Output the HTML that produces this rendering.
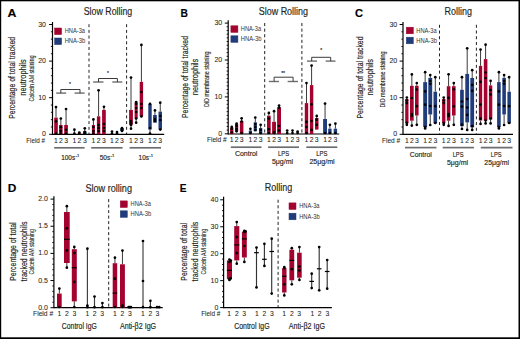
<!DOCTYPE html><html><head><meta charset="utf-8"><style>html,body{margin:0;padding:0;background:#fff;width:520px;height:339px;overflow:hidden;}svg{display:block;font-family:"Liberation Sans", sans-serif;}text{stroke:#231f20;stroke-width:0.16px;}text.nb{stroke:none;}text.tk{stroke-width:0.06px;}text.lt{stroke:none;}text.sm{stroke-width:0.12px;}</style></head><body><svg width="520" height="339" viewBox="0 0 520 339" font-family='"Liberation Sans", sans-serif'>
<rect x="0" y="0" width="520" height="339" fill="#fff"/>
<text x="7.4" y="17.2" font-size="11.8" font-weight="bold" textLength="8.9" lengthAdjust="spacingAndGlyphs" fill="#000">A</text>
<text x="83.7" y="14.8" font-size="10.8" textLength="48.6" lengthAdjust="spacingAndGlyphs" fill="#231f20">Slow Rolling</text>
<line x1="52.5" y1="22" x2="52.5" y2="134.9" stroke="#000" stroke-width="1.2"/>
<line x1="49.1" y1="134.3" x2="52.5" y2="134.3" stroke="#000" stroke-width="1"/>
<text x="46" y="136.33" font-size="7" text-anchor="end" fill="#231f20" class="tk">0</text>
<line x1="49.1" y1="97.7" x2="52.5" y2="97.7" stroke="#000" stroke-width="1"/>
<text x="46" y="99.73" font-size="7" text-anchor="end" fill="#231f20" class="tk">10</text>
<line x1="49.1" y1="61.1" x2="52.5" y2="61.1" stroke="#000" stroke-width="1"/>
<text x="46" y="63.13" font-size="7" text-anchor="end" fill="#231f20" class="tk">20</text>
<line x1="49.1" y1="24.5" x2="52.5" y2="24.5" stroke="#000" stroke-width="1"/>
<text x="46" y="26.53" font-size="7" text-anchor="end" fill="#231f20" class="tk">30</text>
<line x1="50.9" y1="126.98" x2="52.5" y2="126.98" stroke="#000" stroke-width="0.9"/>
<line x1="50.9" y1="119.66" x2="52.5" y2="119.66" stroke="#000" stroke-width="0.9"/>
<line x1="50.9" y1="112.34" x2="52.5" y2="112.34" stroke="#000" stroke-width="0.9"/>
<line x1="50.9" y1="105.02" x2="52.5" y2="105.02" stroke="#000" stroke-width="0.9"/>
<line x1="50.9" y1="90.38" x2="52.5" y2="90.38" stroke="#000" stroke-width="0.9"/>
<line x1="50.9" y1="83.06" x2="52.5" y2="83.06" stroke="#000" stroke-width="0.9"/>
<line x1="50.9" y1="75.74" x2="52.5" y2="75.74" stroke="#000" stroke-width="0.9"/>
<line x1="50.9" y1="68.42" x2="52.5" y2="68.42" stroke="#000" stroke-width="0.9"/>
<line x1="50.9" y1="53.78" x2="52.5" y2="53.78" stroke="#000" stroke-width="0.9"/>
<line x1="50.9" y1="46.46" x2="52.5" y2="46.46" stroke="#000" stroke-width="0.9"/>
<line x1="50.9" y1="39.14" x2="52.5" y2="39.14" stroke="#000" stroke-width="0.9"/>
<line x1="50.9" y1="31.82" x2="52.5" y2="31.82" stroke="#000" stroke-width="0.9"/>
<text transform="translate(14.9 77.85) rotate(-90)" x="0" y="0" font-size="9.4" text-anchor="middle" textLength="82" lengthAdjust="spacingAndGlyphs" fill="#231f20">Percentage of total tracked</text>
<text transform="translate(25.8 77.5) rotate(-90)" x="0" y="0" font-size="9.4" text-anchor="middle" textLength="36.4" lengthAdjust="spacingAndGlyphs" fill="#231f20">neutrophils</text>
<text transform="translate(33.9 78.5) rotate(-90)" x="0" y="0" font-size="6.4" text-anchor="middle" textLength="46.2" lengthAdjust="spacingAndGlyphs" fill="#231f20" class="sm">Calcein AM staining</text>
<rect x="54.6" y="28" width="7" height="6.58" fill="#a5032f" stroke="#9a0530" stroke-width="0.5"/>
<rect x="54.6" y="38" width="7" height="6.58" fill="#213c7b" stroke="#1f3a72" stroke-width="0.5"/>
<text x="64.7" y="33.34" font-size="6.8" textLength="20.3" lengthAdjust="spacingAndGlyphs" fill="#333" class="lt">HNA-3a</text>
<text x="64.7" y="43.34" font-size="6.8" textLength="20.6" lengthAdjust="spacingAndGlyphs" fill="#333" class="lt">HNA-3b</text>
<line x1="89" y1="24.2" x2="89" y2="134" stroke="#222" stroke-width="1" stroke-dasharray="3 2.7"/>
<line x1="126.6" y1="24.2" x2="126.6" y2="134" stroke="#222" stroke-width="1" stroke-dasharray="3 2.7"/>
<line x1="52.5" y1="134.3" x2="164.2" y2="134.3" stroke="#000" stroke-width="1.2"/>
<line x1="56.2" y1="93.1" x2="66.2" y2="93.1" stroke="#6d6e71" stroke-width="1.4"/>
<line x1="74.6" y1="93.1" x2="84.6" y2="93.1" stroke="#6d6e71" stroke-width="1.4"/>
<polyline points="60.8,93.1 60.8,89.5 80,89.5 80,93.1" fill="none" stroke="#3a3a3a" stroke-width="1"/>
<text x="70" y="86" font-size="5" text-anchor="middle" fill="#444">*</text>
<line x1="93.1" y1="82" x2="103.5" y2="82" stroke="#6d6e71" stroke-width="1.4"/>
<line x1="112.3" y1="82" x2="122.3" y2="82" stroke="#6d6e71" stroke-width="1.4"/>
<polyline points="98.5,82 98.5,78.5 117.4,78.5 117.4,82" fill="none" stroke="#3a3a3a" stroke-width="1"/>
<text x="108" y="75.2" font-size="5" text-anchor="middle" fill="#444">*</text>
<line x1="56" y1="107.1" x2="56" y2="117.7" stroke="#3a3a3a" stroke-width="1"/>
<rect x="54.2" y="117.7" width="3.6" height="16.6" fill="#a5032f"/>
<circle cx="56" cy="107.1" r="1.35" fill="#000"/>
<circle cx="56" cy="121.4" r="1.35" fill="#000"/>
<circle cx="56" cy="133.5" r="1.35" fill="#000"/>
<line x1="60.85" y1="118.5" x2="60.85" y2="125" stroke="#3a3a3a" stroke-width="1"/>
<rect x="59.1" y="125" width="3.5" height="9.3" fill="#a5032f"/>
<circle cx="60.85" cy="118.5" r="1.35" fill="#000"/>
<circle cx="60.85" cy="127.2" r="1.35" fill="#000"/>
<circle cx="60.85" cy="130.8" r="1.35" fill="#000"/>
<circle cx="60.85" cy="133.5" r="1.35" fill="#000"/>
<line x1="66.05" y1="109" x2="66.05" y2="125" stroke="#3a3a3a" stroke-width="1"/>
<rect x="64.2" y="125" width="3.7" height="9.3" fill="#a5032f"/>
<circle cx="66.05" cy="109" r="1.35" fill="#000"/>
<circle cx="66.05" cy="129.8" r="1.35" fill="#000"/>
<circle cx="66.05" cy="133.5" r="1.35" fill="#000"/>
<line x1="74.4" y1="129.7" x2="74.4" y2="134.3" stroke="#3a3a3a" stroke-width="1"/>
<circle cx="74.4" cy="129.7" r="1.35" fill="#000"/>
<circle cx="74.4" cy="133.5" r="1.35" fill="#000"/>
<line x1="79.3" y1="132.5" x2="79.3" y2="134.3" stroke="#3a3a3a" stroke-width="1"/>
<circle cx="79.3" cy="132.5" r="1.35" fill="#000"/>
<circle cx="79.3" cy="133.5" r="1.35" fill="#000"/>
<line x1="84.8" y1="128.3" x2="84.8" y2="131.3" stroke="#3a3a3a" stroke-width="1"/>
<rect x="83" y="131.3" width="3.6" height="3" fill="#213c7b"/>
<circle cx="84.8" cy="128.3" r="1.35" fill="#000"/>
<circle cx="84.8" cy="132" r="1.35" fill="#000"/>
<circle cx="84.8" cy="133.5" r="1.35" fill="#000"/>
<line x1="93.4" y1="119.4" x2="93.4" y2="125" stroke="#3a3a3a" stroke-width="1"/>
<rect x="91.9" y="125" width="3" height="9.3" fill="#a5032f"/>
<circle cx="93.4" cy="119.4" r="1.35" fill="#000"/>
<circle cx="93.4" cy="127" r="1.35" fill="#000"/>
<circle cx="93.4" cy="131" r="1.35" fill="#000"/>
<circle cx="93.4" cy="133.5" r="1.35" fill="#000"/>
<line x1="98.6" y1="90.3" x2="98.6" y2="116.3" stroke="#3a3a3a" stroke-width="1"/>
<rect x="96.9" y="116.3" width="3.4" height="18" fill="#a5032f"/>
<circle cx="98.6" cy="90.3" r="1.35" fill="#000"/>
<circle cx="98.6" cy="125" r="1.35" fill="#000"/>
<circle cx="98.6" cy="128" r="1.35" fill="#000"/>
<circle cx="98.6" cy="131" r="1.35" fill="#000"/>
<line x1="103.95" y1="106.8" x2="103.95" y2="109.9" stroke="#3a3a3a" stroke-width="1"/>
<rect x="102.1" y="109.9" width="3.7" height="24.4" fill="#a5032f"/>
<circle cx="103.95" cy="106.8" r="1.35" fill="#000"/>
<circle cx="103.95" cy="124" r="1.35" fill="#000"/>
<circle cx="103.95" cy="128" r="1.35" fill="#000"/>
<circle cx="103.95" cy="131" r="1.35" fill="#000"/>
<line x1="112" y1="131.5" x2="112" y2="134.3" stroke="#3a3a3a" stroke-width="1"/>
<circle cx="112" cy="131.5" r="1.35" fill="#000"/>
<circle cx="112" cy="133.5" r="1.35" fill="#000"/>
<line x1="117" y1="132" x2="117" y2="134.3" stroke="#3a3a3a" stroke-width="1"/>
<circle cx="117" cy="132" r="1.35" fill="#000"/>
<circle cx="117" cy="133.5" r="1.35" fill="#000"/>
<line x1="122" y1="128" x2="122" y2="128" stroke="#3a3a3a" stroke-width="1"/>
<rect x="120.2" y="128" width="3.6" height="3" fill="#213c7b"/>
<circle cx="122" cy="128" r="1.35" fill="#000"/>
<circle cx="122" cy="129.5" r="1.35" fill="#000"/>
<circle cx="122" cy="131" r="1.35" fill="#000"/>
<line x1="131" y1="77.6" x2="131" y2="109.9" stroke="#3a3a3a" stroke-width="1"/>
<line x1="131" y1="124.8" x2="131" y2="128.7" stroke="#3a3a3a" stroke-width="1"/>
<rect x="129.1" y="109.9" width="3.8" height="14.9" fill="#a5032f"/>
<circle cx="131" cy="77.6" r="1.35" fill="#000"/>
<circle cx="131" cy="121" r="1.35" fill="#000"/>
<circle cx="131" cy="123" r="1.35" fill="#000"/>
<circle cx="131" cy="125" r="1.35" fill="#000"/>
<circle cx="131" cy="128.7" r="1.35" fill="#000"/>
<line x1="136.15" y1="102" x2="136.15" y2="102.2" stroke="#3a3a3a" stroke-width="1"/>
<line x1="136.15" y1="118.5" x2="136.15" y2="122.7" stroke="#3a3a3a" stroke-width="1"/>
<rect x="134.6" y="102.2" width="3.1" height="16.3" fill="#a5032f"/>
<circle cx="136.15" cy="102" r="1.35" fill="#000"/>
<circle cx="136.15" cy="104" r="1.35" fill="#000"/>
<circle cx="136.15" cy="108" r="1.35" fill="#000"/>
<circle cx="136.15" cy="112" r="1.35" fill="#000"/>
<circle cx="136.15" cy="118.5" r="1.35" fill="#000"/>
<circle cx="136.15" cy="122.7" r="1.35" fill="#000"/>
<line x1="141.4" y1="44.9" x2="141.4" y2="81.9" stroke="#3a3a3a" stroke-width="1"/>
<rect x="139.7" y="81.9" width="3.4" height="34.5" fill="#a5032f"/>
<circle cx="141.4" cy="44.9" r="1.35" fill="#000"/>
<circle cx="141.4" cy="92" r="1.35" fill="#000"/>
<circle cx="141.4" cy="104" r="1.35" fill="#000"/>
<circle cx="141.4" cy="108" r="1.35" fill="#000"/>
<circle cx="141.4" cy="116.4" r="1.35" fill="#000"/>
<line x1="150" y1="129.6" x2="150" y2="133.5" stroke="#3a3a3a" stroke-width="1"/>
<rect x="148.3" y="103.9" width="3.4" height="25.7" fill="#213c7b"/>
<circle cx="150" cy="103.9" r="1.35" fill="#000"/>
<circle cx="150" cy="128" r="1.35" fill="#000"/>
<circle cx="150" cy="133.5" r="1.35" fill="#000"/>
<line x1="154.95" y1="110.4" x2="154.95" y2="115" stroke="#3a3a3a" stroke-width="1"/>
<rect x="153.1" y="115" width="3.7" height="7.7" fill="#213c7b"/>
<circle cx="154.95" cy="110.4" r="1.35" fill="#000"/>
<circle cx="154.95" cy="119" r="1.35" fill="#000"/>
<circle cx="154.95" cy="121" r="1.35" fill="#000"/>
<line x1="160.25" y1="102.7" x2="160.25" y2="111.6" stroke="#3a3a3a" stroke-width="1"/>
<rect x="158.5" y="111.6" width="3.5" height="18" fill="#213c7b"/>
<circle cx="160.25" cy="102.7" r="1.35" fill="#000"/>
<circle cx="160.25" cy="116" r="1.35" fill="#000"/>
<circle cx="160.25" cy="120" r="1.35" fill="#000"/>
<circle cx="160.25" cy="129.6" r="1.35" fill="#000"/>
<text x="26.2" y="142.8" font-size="6.6" textLength="18.9" lengthAdjust="spacingAndGlyphs" fill="#231f20" class="tk">Field #</text>
<text x="56" y="142.8" font-size="6.8" text-anchor="middle" fill="#231f20" class="tk">1</text>
<text x="60.85" y="142.8" font-size="6.8" text-anchor="middle" fill="#231f20" class="tk">2</text>
<text x="66.05" y="142.8" font-size="6.8" text-anchor="middle" fill="#231f20" class="tk">3</text>
<text x="74.4" y="142.8" font-size="6.8" text-anchor="middle" fill="#231f20" class="tk">1</text>
<text x="79.3" y="142.8" font-size="6.8" text-anchor="middle" fill="#231f20" class="tk">2</text>
<text x="84.8" y="142.8" font-size="6.8" text-anchor="middle" fill="#231f20" class="tk">3</text>
<text x="93.4" y="142.8" font-size="6.8" text-anchor="middle" fill="#231f20" class="tk">1</text>
<text x="98.6" y="142.8" font-size="6.8" text-anchor="middle" fill="#231f20" class="tk">2</text>
<text x="103.95" y="142.8" font-size="6.8" text-anchor="middle" fill="#231f20" class="tk">3</text>
<text x="112" y="142.8" font-size="6.8" text-anchor="middle" fill="#231f20" class="tk">1</text>
<text x="117" y="142.8" font-size="6.8" text-anchor="middle" fill="#231f20" class="tk">2</text>
<text x="122" y="142.8" font-size="6.8" text-anchor="middle" fill="#231f20" class="tk">3</text>
<text x="131" y="142.8" font-size="6.8" text-anchor="middle" fill="#231f20" class="tk">1</text>
<text x="136.15" y="142.8" font-size="6.8" text-anchor="middle" fill="#231f20" class="tk">2</text>
<text x="141.4" y="142.8" font-size="6.8" text-anchor="middle" fill="#231f20" class="tk">3</text>
<text x="150" y="142.8" font-size="6.8" text-anchor="middle" fill="#231f20" class="tk">1</text>
<text x="154.95" y="142.8" font-size="6.8" text-anchor="middle" fill="#231f20" class="tk">2</text>
<text x="160.25" y="142.8" font-size="6.8" text-anchor="middle" fill="#231f20" class="tk">3</text>
<line x1="54.2" y1="147.8" x2="84.6" y2="147.8" stroke="#6d6e71" stroke-width="1.7"/>
<line x1="91.2" y1="147.8" x2="122.6" y2="147.8" stroke="#6d6e71" stroke-width="1.7"/>
<line x1="129.6" y1="147.8" x2="161" y2="147.8" stroke="#6d6e71" stroke-width="1.7"/>
<text x="61.2" y="160.2" font-size="7.4" textLength="14" lengthAdjust="spacingAndGlyphs" fill="#231f20">100s</text>
<text x="75.5" y="157" font-size="4.2" fill="#231f20">-1</text>
<text x="99.7" y="160.2" font-size="7.4" textLength="10.6" lengthAdjust="spacingAndGlyphs" fill="#231f20">50s</text>
<text x="110.6" y="157" font-size="4.2" fill="#231f20">-1</text>
<text x="138.6" y="160.2" font-size="7.4" textLength="10.4" lengthAdjust="spacingAndGlyphs" fill="#231f20">10s</text>
<text x="149.3" y="157" font-size="4.2" fill="#231f20">-1</text>
<text x="180.5" y="17.3" font-size="11.8" font-weight="bold" textLength="7.4" lengthAdjust="spacingAndGlyphs" fill="#000">B</text>
<text x="258.7" y="14.6" font-size="10.8" textLength="49.4" lengthAdjust="spacingAndGlyphs" fill="#231f20">Slow Rolling</text>
<line x1="228.2" y1="20.2" x2="228.2" y2="134.4" stroke="#000" stroke-width="1.2"/>
<line x1="224.8" y1="133.8" x2="228.2" y2="133.8" stroke="#000" stroke-width="1"/>
<text x="222.2" y="135.83" font-size="7" text-anchor="end" fill="#231f20" class="tk">0</text>
<line x1="224.8" y1="96.9" x2="228.2" y2="96.9" stroke="#000" stroke-width="1"/>
<text x="222.2" y="98.93" font-size="7" text-anchor="end" fill="#231f20" class="tk">10</text>
<line x1="224.8" y1="60" x2="228.2" y2="60" stroke="#000" stroke-width="1"/>
<text x="222.2" y="62.03" font-size="7" text-anchor="end" fill="#231f20" class="tk">20</text>
<line x1="224.8" y1="23.1" x2="228.2" y2="23.1" stroke="#000" stroke-width="1"/>
<text x="222.2" y="25.13" font-size="7" text-anchor="end" fill="#231f20" class="tk">30</text>
<line x1="226.6" y1="130.11" x2="228.2" y2="130.11" stroke="#000" stroke-width="0.9"/>
<line x1="226.6" y1="126.42" x2="228.2" y2="126.42" stroke="#000" stroke-width="0.9"/>
<line x1="226.6" y1="122.73" x2="228.2" y2="122.73" stroke="#000" stroke-width="0.9"/>
<line x1="226.6" y1="119.04" x2="228.2" y2="119.04" stroke="#000" stroke-width="0.9"/>
<line x1="226.6" y1="115.35" x2="228.2" y2="115.35" stroke="#000" stroke-width="0.9"/>
<line x1="226.6" y1="111.66" x2="228.2" y2="111.66" stroke="#000" stroke-width="0.9"/>
<line x1="226.6" y1="107.97" x2="228.2" y2="107.97" stroke="#000" stroke-width="0.9"/>
<line x1="226.6" y1="104.28" x2="228.2" y2="104.28" stroke="#000" stroke-width="0.9"/>
<line x1="226.6" y1="100.59" x2="228.2" y2="100.59" stroke="#000" stroke-width="0.9"/>
<line x1="226.6" y1="93.21" x2="228.2" y2="93.21" stroke="#000" stroke-width="0.9"/>
<line x1="226.6" y1="89.52" x2="228.2" y2="89.52" stroke="#000" stroke-width="0.9"/>
<line x1="226.6" y1="85.83" x2="228.2" y2="85.83" stroke="#000" stroke-width="0.9"/>
<line x1="226.6" y1="82.14" x2="228.2" y2="82.14" stroke="#000" stroke-width="0.9"/>
<line x1="226.6" y1="78.45" x2="228.2" y2="78.45" stroke="#000" stroke-width="0.9"/>
<line x1="226.6" y1="74.76" x2="228.2" y2="74.76" stroke="#000" stroke-width="0.9"/>
<line x1="226.6" y1="71.07" x2="228.2" y2="71.07" stroke="#000" stroke-width="0.9"/>
<line x1="226.6" y1="67.38" x2="228.2" y2="67.38" stroke="#000" stroke-width="0.9"/>
<line x1="226.6" y1="63.69" x2="228.2" y2="63.69" stroke="#000" stroke-width="0.9"/>
<line x1="226.6" y1="56.31" x2="228.2" y2="56.31" stroke="#000" stroke-width="0.9"/>
<line x1="226.6" y1="52.62" x2="228.2" y2="52.62" stroke="#000" stroke-width="0.9"/>
<line x1="226.6" y1="48.93" x2="228.2" y2="48.93" stroke="#000" stroke-width="0.9"/>
<line x1="226.6" y1="45.24" x2="228.2" y2="45.24" stroke="#000" stroke-width="0.9"/>
<line x1="226.6" y1="41.55" x2="228.2" y2="41.55" stroke="#000" stroke-width="0.9"/>
<line x1="226.6" y1="37.86" x2="228.2" y2="37.86" stroke="#000" stroke-width="0.9"/>
<line x1="226.6" y1="34.17" x2="228.2" y2="34.17" stroke="#000" stroke-width="0.9"/>
<line x1="226.6" y1="30.48" x2="228.2" y2="30.48" stroke="#000" stroke-width="0.9"/>
<line x1="226.6" y1="26.79" x2="228.2" y2="26.79" stroke="#000" stroke-width="0.9"/>
<text transform="translate(187.8 77) rotate(-90)" x="0" y="0" font-size="9.4" text-anchor="middle" textLength="82" lengthAdjust="spacingAndGlyphs" fill="#231f20">Percentage of total tracked</text>
<text transform="translate(198 77) rotate(-90)" x="0" y="0" font-size="9.4" text-anchor="middle" textLength="36.4" lengthAdjust="spacingAndGlyphs" fill="#231f20">neutrophils</text>
<text transform="translate(209 79.2) rotate(-90)" x="0" y="0" font-size="6.4" text-anchor="middle" textLength="55.5" lengthAdjust="spacingAndGlyphs" fill="#231f20" class="sm">DiD membrane staining</text>
<rect x="230.9" y="25.8" width="7" height="6.58" fill="#a5032f" stroke="#9a0530" stroke-width="0.5"/>
<rect x="230.9" y="35.8" width="7" height="6.58" fill="#213c7b" stroke="#1f3a72" stroke-width="0.5"/>
<text x="240.8" y="31.14" font-size="6.8" textLength="20.3" lengthAdjust="spacingAndGlyphs" fill="#333" class="lt">HNA-3a</text>
<text x="240.8" y="41.14" font-size="6.8" textLength="20.6" lengthAdjust="spacingAndGlyphs" fill="#333" class="lt">HNA-3b</text>
<line x1="264.7" y1="23" x2="264.7" y2="134" stroke="#222" stroke-width="1" stroke-dasharray="3.1 2.5"/>
<line x1="301.9" y1="23" x2="301.9" y2="134" stroke="#222" stroke-width="1" stroke-dasharray="3.1 2.5"/>
<line x1="228.2" y1="134" x2="339.3" y2="134" stroke="#000" stroke-width="1.2"/>
<line x1="268.9" y1="81.5" x2="279" y2="81.5" stroke="#6d6e71" stroke-width="1.4"/>
<line x1="287.6" y1="81.5" x2="298" y2="81.5" stroke="#6d6e71" stroke-width="1.4"/>
<polyline points="274.1,81.5 274.1,77.2 293.1,77.2 293.1,81.5" fill="none" stroke="#3a3a3a" stroke-width="1"/>
<text x="283.1" y="74.7" font-size="5" text-anchor="middle" fill="#444">**</text>
<line x1="307" y1="61.1" x2="317" y2="61.1" stroke="#6d6e71" stroke-width="1.4"/>
<line x1="325.7" y1="61.1" x2="335.5" y2="61.1" stroke="#6d6e71" stroke-width="1.4"/>
<polyline points="311.7,61.1 311.7,57.3 330.7,57.3 330.7,61.1" fill="none" stroke="#3a3a3a" stroke-width="1"/>
<text x="321.2" y="51.7" font-size="5" text-anchor="middle" fill="#444">*</text>
<line x1="231.75" y1="126.9" x2="231.75" y2="127.5" stroke="#3a3a3a" stroke-width="1"/>
<rect x="230.1" y="127.5" width="3.3" height="6.5" fill="#a5032f"/>
<circle cx="231.75" cy="126.9" r="1.35" fill="#000"/>
<circle cx="231.75" cy="129" r="1.35" fill="#000"/>
<circle cx="231.75" cy="132.5" r="1.35" fill="#000"/>
<line x1="236.6" y1="123.6" x2="236.6" y2="124" stroke="#3a3a3a" stroke-width="1"/>
<rect x="235" y="124" width="3.2" height="7.3" fill="#a5032f"/>
<circle cx="236.6" cy="123.6" r="1.35" fill="#000"/>
<circle cx="236.6" cy="126" r="1.35" fill="#000"/>
<circle cx="236.6" cy="129" r="1.35" fill="#000"/>
<circle cx="236.6" cy="131.3" r="1.35" fill="#000"/>
<line x1="241.65" y1="118.3" x2="241.65" y2="121" stroke="#3a3a3a" stroke-width="1"/>
<rect x="239.9" y="121" width="3.5" height="13" fill="#a5032f"/>
<circle cx="241.65" cy="118.3" r="1.35" fill="#000"/>
<circle cx="241.65" cy="121.5" r="1.35" fill="#000"/>
<circle cx="241.65" cy="133" r="1.35" fill="#000"/>
<line x1="250.4" y1="128.8" x2="250.4" y2="130.5" stroke="#3a3a3a" stroke-width="1"/>
<rect x="248.8" y="130.5" width="3.2" height="3.5" fill="#213c7b"/>
<circle cx="250.4" cy="128.8" r="1.35" fill="#000"/>
<circle cx="250.4" cy="133" r="1.35" fill="#000"/>
<line x1="255.3" y1="117.5" x2="255.3" y2="122.3" stroke="#3a3a3a" stroke-width="1"/>
<rect x="253.7" y="122.3" width="3.2" height="9" fill="#213c7b"/>
<circle cx="255.3" cy="117.5" r="1.35" fill="#000"/>
<circle cx="255.3" cy="124" r="1.35" fill="#000"/>
<circle cx="255.3" cy="127" r="1.35" fill="#000"/>
<circle cx="255.3" cy="130" r="1.35" fill="#000"/>
<line x1="260.65" y1="124.8" x2="260.65" y2="128" stroke="#3a3a3a" stroke-width="1"/>
<rect x="259" y="128" width="3.3" height="6" fill="#213c7b"/>
<circle cx="260.65" cy="124.8" r="1.35" fill="#000"/>
<circle cx="260.65" cy="130" r="1.35" fill="#000"/>
<circle cx="260.65" cy="133" r="1.35" fill="#000"/>
<line x1="268.85" y1="112.9" x2="268.85" y2="115.7" stroke="#3a3a3a" stroke-width="1"/>
<rect x="267" y="115.7" width="3.7" height="18.3" fill="#a5032f"/>
<circle cx="268.85" cy="112.9" r="1.35" fill="#000"/>
<circle cx="268.85" cy="118.5" r="1.35" fill="#000"/>
<circle cx="268.85" cy="129.3" r="1.35" fill="#000"/>
<circle cx="268.85" cy="133" r="1.35" fill="#000"/>
<line x1="274.05" y1="111.2" x2="274.05" y2="121.8" stroke="#3a3a3a" stroke-width="1"/>
<rect x="272.1" y="121.8" width="3.9" height="12.2" fill="#a5032f"/>
<circle cx="274.05" cy="111.2" r="1.35" fill="#000"/>
<circle cx="274.05" cy="132" r="1.35" fill="#000"/>
<circle cx="274.05" cy="133" r="1.35" fill="#000"/>
<line x1="279.05" y1="105.6" x2="279.05" y2="107.3" stroke="#3a3a3a" stroke-width="1"/>
<rect x="277.1" y="107.3" width="3.9" height="26.7" fill="#a5032f"/>
<circle cx="279.05" cy="105.6" r="1.35" fill="#000"/>
<circle cx="279.05" cy="107.8" r="1.35" fill="#000"/>
<circle cx="279.05" cy="126" r="1.35" fill="#000"/>
<circle cx="279.05" cy="130.5" r="1.35" fill="#000"/>
<line x1="287.2" y1="130.5" x2="287.2" y2="134" stroke="#3a3a3a" stroke-width="1"/>
<circle cx="287.2" cy="130.5" r="1.35" fill="#000"/>
<circle cx="287.2" cy="133" r="1.35" fill="#000"/>
<line x1="292.5" y1="130.5" x2="292.5" y2="134" stroke="#3a3a3a" stroke-width="1"/>
<circle cx="292.5" cy="130.5" r="1.35" fill="#000"/>
<circle cx="292.5" cy="133" r="1.35" fill="#000"/>
<line x1="297.6" y1="131.5" x2="297.6" y2="134" stroke="#3a3a3a" stroke-width="1"/>
<circle cx="297.6" cy="131.5" r="1.35" fill="#000"/>
<circle cx="297.6" cy="133" r="1.35" fill="#000"/>
<line x1="306.5" y1="83.1" x2="306.5" y2="103.1" stroke="#3a3a3a" stroke-width="1"/>
<rect x="304.8" y="103.1" width="3.4" height="30.9" fill="#a5032f"/>
<circle cx="306.5" cy="83.1" r="1.35" fill="#000"/>
<circle cx="306.5" cy="121.9" r="1.35" fill="#000"/>
<circle cx="306.5" cy="127" r="1.35" fill="#000"/>
<circle cx="306.5" cy="133" r="1.35" fill="#000"/>
<line x1="311.6" y1="65.6" x2="311.6" y2="85.1" stroke="#3a3a3a" stroke-width="1"/>
<rect x="309.9" y="85.1" width="3.4" height="48.9" fill="#a5032f"/>
<circle cx="311.6" cy="65.6" r="1.35" fill="#000"/>
<circle cx="311.6" cy="104.3" r="1.35" fill="#000"/>
<circle cx="311.6" cy="121" r="1.35" fill="#000"/>
<circle cx="311.6" cy="129.9" r="1.35" fill="#000"/>
<line x1="316.75" y1="115.9" x2="316.75" y2="118" stroke="#3a3a3a" stroke-width="1"/>
<rect x="315" y="118" width="3.5" height="11.6" fill="#a5032f"/>
<circle cx="316.75" cy="115.9" r="1.35" fill="#000"/>
<circle cx="316.75" cy="119.7" r="1.35" fill="#000"/>
<circle cx="316.75" cy="124.8" r="1.35" fill="#000"/>
<line x1="325.05" y1="103.6" x2="325.05" y2="119" stroke="#3a3a3a" stroke-width="1"/>
<rect x="323.1" y="119" width="3.9" height="15" fill="#213c7b"/>
<circle cx="325.05" cy="103.6" r="1.35" fill="#000"/>
<circle cx="325.05" cy="133" r="1.35" fill="#000"/>
<line x1="329.9" y1="124.8" x2="329.9" y2="128.7" stroke="#3a3a3a" stroke-width="1"/>
<rect x="328.2" y="128.7" width="3.4" height="5.3" fill="#213c7b"/>
<circle cx="329.9" cy="124.8" r="1.35" fill="#000"/>
<circle cx="329.9" cy="133" r="1.35" fill="#000"/>
<line x1="335.4" y1="123.6" x2="335.4" y2="128.7" stroke="#3a3a3a" stroke-width="1"/>
<rect x="333.7" y="128.7" width="3.4" height="5.3" fill="#213c7b"/>
<circle cx="335.4" cy="123.6" r="1.35" fill="#000"/>
<circle cx="335.4" cy="133" r="1.35" fill="#000"/>
<text x="206.9" y="142.4" font-size="6.6" textLength="19.8" lengthAdjust="spacingAndGlyphs" fill="#231f20" class="tk">Field #</text>
<text x="231.75" y="142.4" font-size="6.8" text-anchor="middle" fill="#231f20" class="tk">1</text>
<text x="236.6" y="142.4" font-size="6.8" text-anchor="middle" fill="#231f20" class="tk">2</text>
<text x="241.65" y="142.4" font-size="6.8" text-anchor="middle" fill="#231f20" class="tk">3</text>
<text x="250.4" y="142.4" font-size="6.8" text-anchor="middle" fill="#231f20" class="tk">1</text>
<text x="255.3" y="142.4" font-size="6.8" text-anchor="middle" fill="#231f20" class="tk">2</text>
<text x="260.65" y="142.4" font-size="6.8" text-anchor="middle" fill="#231f20" class="tk">3</text>
<text x="268.85" y="142.4" font-size="6.8" text-anchor="middle" fill="#231f20" class="tk">1</text>
<text x="274.05" y="142.4" font-size="6.8" text-anchor="middle" fill="#231f20" class="tk">2</text>
<text x="279.05" y="142.4" font-size="6.8" text-anchor="middle" fill="#231f20" class="tk">3</text>
<text x="287.2" y="142.4" font-size="6.8" text-anchor="middle" fill="#231f20" class="tk">1</text>
<text x="292.5" y="142.4" font-size="6.8" text-anchor="middle" fill="#231f20" class="tk">2</text>
<text x="297.6" y="142.4" font-size="6.8" text-anchor="middle" fill="#231f20" class="tk">3</text>
<text x="306.5" y="142.4" font-size="6.8" text-anchor="middle" fill="#231f20" class="tk">1</text>
<text x="311.6" y="142.4" font-size="6.8" text-anchor="middle" fill="#231f20" class="tk">2</text>
<text x="316.75" y="142.4" font-size="6.8" text-anchor="middle" fill="#231f20" class="tk">3</text>
<text x="325.05" y="142.4" font-size="6.8" text-anchor="middle" fill="#231f20" class="tk">1</text>
<text x="329.9" y="142.4" font-size="6.8" text-anchor="middle" fill="#231f20" class="tk">2</text>
<text x="335.4" y="142.4" font-size="6.8" text-anchor="middle" fill="#231f20" class="tk">3</text>
<line x1="230.8" y1="147.2" x2="261.5" y2="147.2" stroke="#6d6e71" stroke-width="1.7"/>
<line x1="268.1" y1="147.2" x2="299" y2="147.2" stroke="#6d6e71" stroke-width="1.7"/>
<line x1="306.3" y1="147.2" x2="337.3" y2="147.2" stroke="#6d6e71" stroke-width="1.7"/>
<text x="234.9" y="156.2" font-size="7.8" textLength="22.5" lengthAdjust="spacingAndGlyphs" fill="#231f20">Control</text>
<text x="278" y="156" font-size="7.8" textLength="11.1" lengthAdjust="spacingAndGlyphs" fill="#231f20">LPS</text>
<text x="271.9" y="164" font-size="7.8" textLength="21.2" lengthAdjust="spacingAndGlyphs" fill="#231f20">5μg/ml</text>
<text x="316.2" y="156" font-size="7.8" textLength="11.2" lengthAdjust="spacingAndGlyphs" fill="#231f20">LPS</text>
<text x="309.4" y="164" font-size="7.8" textLength="25.2" lengthAdjust="spacingAndGlyphs" fill="#231f20">25μg/ml</text>
<text x="355" y="17.4" font-size="11.8" font-weight="bold" textLength="8" lengthAdjust="spacingAndGlyphs" fill="#000">C</text>
<text x="444.6" y="15" font-size="10.8" textLength="27.4" lengthAdjust="spacingAndGlyphs" fill="#231f20">Rolling</text>
<line x1="403" y1="22" x2="403" y2="134.9" stroke="#000" stroke-width="1.2"/>
<line x1="399.6" y1="134.3" x2="403" y2="134.3" stroke="#000" stroke-width="1"/>
<text x="397.2" y="136.33" font-size="7" text-anchor="end" fill="#231f20" class="tk">0</text>
<line x1="399.6" y1="97.7" x2="403" y2="97.7" stroke="#000" stroke-width="1"/>
<text x="397.2" y="99.73" font-size="7" text-anchor="end" fill="#231f20" class="tk">10</text>
<line x1="399.6" y1="61.1" x2="403" y2="61.1" stroke="#000" stroke-width="1"/>
<text x="397.2" y="63.13" font-size="7" text-anchor="end" fill="#231f20" class="tk">20</text>
<line x1="399.6" y1="24.5" x2="403" y2="24.5" stroke="#000" stroke-width="1"/>
<text x="397.2" y="26.53" font-size="7" text-anchor="end" fill="#231f20" class="tk">30</text>
<line x1="401.4" y1="126.98" x2="403" y2="126.98" stroke="#000" stroke-width="0.9"/>
<line x1="401.4" y1="119.66" x2="403" y2="119.66" stroke="#000" stroke-width="0.9"/>
<line x1="401.4" y1="112.34" x2="403" y2="112.34" stroke="#000" stroke-width="0.9"/>
<line x1="401.4" y1="105.02" x2="403" y2="105.02" stroke="#000" stroke-width="0.9"/>
<line x1="401.4" y1="90.38" x2="403" y2="90.38" stroke="#000" stroke-width="0.9"/>
<line x1="401.4" y1="83.06" x2="403" y2="83.06" stroke="#000" stroke-width="0.9"/>
<line x1="401.4" y1="75.74" x2="403" y2="75.74" stroke="#000" stroke-width="0.9"/>
<line x1="401.4" y1="68.42" x2="403" y2="68.42" stroke="#000" stroke-width="0.9"/>
<line x1="401.4" y1="53.78" x2="403" y2="53.78" stroke="#000" stroke-width="0.9"/>
<line x1="401.4" y1="46.46" x2="403" y2="46.46" stroke="#000" stroke-width="0.9"/>
<line x1="401.4" y1="39.14" x2="403" y2="39.14" stroke="#000" stroke-width="0.9"/>
<line x1="401.4" y1="31.82" x2="403" y2="31.82" stroke="#000" stroke-width="0.9"/>
<text transform="translate(363.2 77.5) rotate(-90)" x="0" y="0" font-size="9.4" text-anchor="middle" textLength="82" lengthAdjust="spacingAndGlyphs" fill="#231f20">Percentage of total tracked</text>
<text transform="translate(373.4 77.2) rotate(-90)" x="0" y="0" font-size="9.4" text-anchor="middle" textLength="36.4" lengthAdjust="spacingAndGlyphs" fill="#231f20">neutrophils</text>
<text transform="translate(384.8 79.5) rotate(-90)" x="0" y="0" font-size="6.4" text-anchor="middle" textLength="55.8" lengthAdjust="spacingAndGlyphs" fill="#231f20" class="sm">DiD membrane staining</text>
<rect x="406.3" y="27.2" width="7" height="6.58" fill="#a5032f" stroke="#9a0530" stroke-width="0.5"/>
<rect x="406.3" y="37.2" width="7" height="6.58" fill="#213c7b" stroke="#1f3a72" stroke-width="0.5"/>
<text x="416.3" y="32.54" font-size="6.8" textLength="20.3" lengthAdjust="spacingAndGlyphs" fill="#333" class="lt">HNA-3a</text>
<text x="416.3" y="42.54" font-size="6.8" textLength="20.6" lengthAdjust="spacingAndGlyphs" fill="#333" class="lt">HNA-3b</text>
<line x1="439.5" y1="24.8" x2="439.5" y2="134" stroke="#222" stroke-width="1" stroke-dasharray="3 2.72"/>
<line x1="476.4" y1="24.8" x2="476.4" y2="134" stroke="#222" stroke-width="1" stroke-dasharray="3 2.72"/>
<line x1="403" y1="134.4" x2="513" y2="134.4" stroke="#000" stroke-width="1.2"/>
<line x1="406.85" y1="97.5" x2="406.85" y2="99" stroke="#3a3a3a" stroke-width="1"/>
<line x1="406.85" y1="123.3" x2="406.85" y2="124.8" stroke="#3a3a3a" stroke-width="1"/>
<rect x="405.2" y="99" width="3.3" height="24.3" fill="#a5032f"/>
<circle cx="406.85" cy="97.5" r="1.35" fill="#000"/>
<circle cx="406.85" cy="100.5" r="1.35" fill="#000"/>
<circle cx="406.85" cy="103.1" r="1.35" fill="#000"/>
<circle cx="406.85" cy="122.8" r="1.35" fill="#000"/>
<circle cx="406.85" cy="124.8" r="1.35" fill="#000"/>
<line x1="411.85" y1="74.4" x2="411.85" y2="85.8" stroke="#3a3a3a" stroke-width="1"/>
<line x1="411.85" y1="120.7" x2="411.85" y2="125.6" stroke="#3a3a3a" stroke-width="1"/>
<rect x="410" y="85.8" width="3.7" height="34.9" fill="#a5032f"/>
<circle cx="411.85" cy="74.4" r="1.35" fill="#000"/>
<circle cx="411.85" cy="98" r="1.35" fill="#000"/>
<circle cx="411.85" cy="114" r="1.35" fill="#000"/>
<circle cx="411.85" cy="116" r="1.35" fill="#000"/>
<circle cx="411.85" cy="125.6" r="1.35" fill="#000"/>
<line x1="416.8" y1="83" x2="416.8" y2="85.8" stroke="#3a3a3a" stroke-width="1"/>
<line x1="416.8" y1="115.5" x2="416.8" y2="124.8" stroke="#3a3a3a" stroke-width="1"/>
<rect x="415" y="85.8" width="3.6" height="29.7" fill="#a5032f"/>
<circle cx="416.8" cy="83" r="1.35" fill="#000"/>
<circle cx="416.8" cy="89.5" r="1.35" fill="#000"/>
<circle cx="416.8" cy="106.2" r="1.35" fill="#000"/>
<circle cx="416.8" cy="124.8" r="1.35" fill="#000"/>
<line x1="425.15" y1="72.2" x2="425.15" y2="82.1" stroke="#3a3a3a" stroke-width="1"/>
<line x1="425.15" y1="127.1" x2="425.15" y2="128.4" stroke="#3a3a3a" stroke-width="1"/>
<rect x="423.2" y="82.1" width="3.9" height="45" fill="#213c7b"/>
<circle cx="425.15" cy="72.2" r="1.35" fill="#000"/>
<circle cx="425.15" cy="91.4" r="1.35" fill="#000"/>
<circle cx="425.15" cy="104.7" r="1.35" fill="#000"/>
<circle cx="425.15" cy="127.1" r="1.35" fill="#000"/>
<circle cx="425.15" cy="128.4" r="1.35" fill="#000"/>
<line x1="430.25" y1="75.1" x2="430.25" y2="77.9" stroke="#3a3a3a" stroke-width="1"/>
<line x1="430.25" y1="114.5" x2="430.25" y2="125" stroke="#3a3a3a" stroke-width="1"/>
<rect x="428.3" y="77.9" width="3.9" height="36.6" fill="#213c7b"/>
<circle cx="430.25" cy="75.1" r="1.35" fill="#000"/>
<circle cx="430.25" cy="81" r="1.35" fill="#000"/>
<circle cx="430.25" cy="83.8" r="1.35" fill="#000"/>
<circle cx="430.25" cy="106" r="1.35" fill="#000"/>
<circle cx="430.25" cy="125" r="1.35" fill="#000"/>
<line x1="435.3" y1="77.2" x2="435.3" y2="91.7" stroke="#3a3a3a" stroke-width="1"/>
<rect x="433.5" y="91.7" width="3.6" height="31.6" fill="#213c7b"/>
<circle cx="435.3" cy="77.2" r="1.35" fill="#000"/>
<circle cx="435.3" cy="106.2" r="1.35" fill="#000"/>
<circle cx="435.3" cy="123" r="1.35" fill="#000"/>
<line x1="443.75" y1="97.6" x2="443.75" y2="99" stroke="#3a3a3a" stroke-width="1"/>
<line x1="443.75" y1="123.3" x2="443.75" y2="124.8" stroke="#3a3a3a" stroke-width="1"/>
<rect x="442.1" y="99" width="3.3" height="24.3" fill="#a5032f"/>
<circle cx="443.75" cy="97.6" r="1.35" fill="#000"/>
<circle cx="443.75" cy="100.5" r="1.35" fill="#000"/>
<circle cx="443.75" cy="103.1" r="1.35" fill="#000"/>
<circle cx="443.75" cy="123" r="1.35" fill="#000"/>
<circle cx="443.75" cy="124.8" r="1.35" fill="#000"/>
<line x1="448.6" y1="74.3" x2="448.6" y2="86.2" stroke="#3a3a3a" stroke-width="1"/>
<line x1="448.6" y1="120.7" x2="448.6" y2="125.9" stroke="#3a3a3a" stroke-width="1"/>
<rect x="446.8" y="86.2" width="3.6" height="34.5" fill="#a5032f"/>
<circle cx="448.6" cy="74.3" r="1.35" fill="#000"/>
<circle cx="448.6" cy="97.9" r="1.35" fill="#000"/>
<circle cx="448.6" cy="114" r="1.35" fill="#000"/>
<circle cx="448.6" cy="116" r="1.35" fill="#000"/>
<circle cx="448.6" cy="125.9" r="1.35" fill="#000"/>
<line x1="453.8" y1="83.1" x2="453.8" y2="86.2" stroke="#3a3a3a" stroke-width="1"/>
<line x1="453.8" y1="115.5" x2="453.8" y2="124.8" stroke="#3a3a3a" stroke-width="1"/>
<rect x="452" y="86.2" width="3.6" height="29.3" fill="#a5032f"/>
<circle cx="453.8" cy="83.1" r="1.35" fill="#000"/>
<circle cx="453.8" cy="89.3" r="1.35" fill="#000"/>
<circle cx="453.8" cy="106.4" r="1.35" fill="#000"/>
<circle cx="453.8" cy="124.8" r="1.35" fill="#000"/>
<line x1="461.95" y1="77.2" x2="461.95" y2="89.8" stroke="#3a3a3a" stroke-width="1"/>
<line x1="461.95" y1="126.2" x2="461.95" y2="129" stroke="#3a3a3a" stroke-width="1"/>
<rect x="460.1" y="89.8" width="3.7" height="36.4" fill="#213c7b"/>
<circle cx="461.95" cy="77.2" r="1.35" fill="#000"/>
<circle cx="461.95" cy="101.5" r="1.35" fill="#000"/>
<circle cx="461.95" cy="106.6" r="1.35" fill="#000"/>
<circle cx="461.95" cy="124.7" r="1.35" fill="#000"/>
<circle cx="461.95" cy="129" r="1.35" fill="#000"/>
<line x1="467.2" y1="48.3" x2="467.2" y2="73.9" stroke="#3a3a3a" stroke-width="1"/>
<line x1="467.2" y1="122.4" x2="467.2" y2="129.9" stroke="#3a3a3a" stroke-width="1"/>
<rect x="465.3" y="73.9" width="3.8" height="48.5" fill="#213c7b"/>
<circle cx="467.2" cy="48.3" r="1.35" fill="#000"/>
<circle cx="467.2" cy="99.1" r="1.35" fill="#000"/>
<circle cx="467.2" cy="107.6" r="1.35" fill="#000"/>
<circle cx="467.2" cy="114.9" r="1.35" fill="#000"/>
<circle cx="467.2" cy="129.9" r="1.35" fill="#000"/>
<line x1="472.2" y1="70.2" x2="472.2" y2="78" stroke="#3a3a3a" stroke-width="1"/>
<line x1="472.2" y1="127.3" x2="472.2" y2="129.9" stroke="#3a3a3a" stroke-width="1"/>
<rect x="470.3" y="78" width="3.8" height="49.3" fill="#213c7b"/>
<circle cx="472.2" cy="70.2" r="1.35" fill="#000"/>
<circle cx="472.2" cy="84.9" r="1.35" fill="#000"/>
<circle cx="472.2" cy="90.8" r="1.35" fill="#000"/>
<circle cx="472.2" cy="126.2" r="1.35" fill="#000"/>
<circle cx="472.2" cy="129.9" r="1.35" fill="#000"/>
<line x1="480.55" y1="49.5" x2="480.55" y2="65.9" stroke="#3a3a3a" stroke-width="1"/>
<line x1="480.55" y1="120.5" x2="480.55" y2="123.9" stroke="#3a3a3a" stroke-width="1"/>
<rect x="478.9" y="65.9" width="3.3" height="54.6" fill="#a5032f"/>
<circle cx="480.55" cy="49.5" r="1.35" fill="#000"/>
<circle cx="480.55" cy="81.8" r="1.35" fill="#000"/>
<circle cx="480.55" cy="104.6" r="1.35" fill="#000"/>
<circle cx="480.55" cy="118.7" r="1.35" fill="#000"/>
<circle cx="480.55" cy="123.9" r="1.35" fill="#000"/>
<line x1="485.6" y1="44.7" x2="485.6" y2="59.1" stroke="#3a3a3a" stroke-width="1"/>
<line x1="485.6" y1="120.5" x2="485.6" y2="123.4" stroke="#3a3a3a" stroke-width="1"/>
<rect x="483.8" y="59.1" width="3.6" height="61.4" fill="#a5032f"/>
<circle cx="485.6" cy="44.7" r="1.35" fill="#000"/>
<circle cx="485.6" cy="72.5" r="1.35" fill="#000"/>
<circle cx="485.6" cy="78" r="1.35" fill="#000"/>
<circle cx="485.6" cy="120.5" r="1.35" fill="#000"/>
<circle cx="485.6" cy="123.4" r="1.35" fill="#000"/>
<line x1="490.6" y1="80.8" x2="490.6" y2="85.4" stroke="#3a3a3a" stroke-width="1"/>
<line x1="490.6" y1="119.5" x2="490.6" y2="123.4" stroke="#3a3a3a" stroke-width="1"/>
<rect x="488.9" y="85.4" width="3.4" height="34.1" fill="#a5032f"/>
<circle cx="490.6" cy="80.8" r="1.35" fill="#000"/>
<circle cx="490.6" cy="90.1" r="1.35" fill="#000"/>
<circle cx="490.6" cy="94.5" r="1.35" fill="#000"/>
<circle cx="490.6" cy="118.5" r="1.35" fill="#000"/>
<circle cx="490.6" cy="123.4" r="1.35" fill="#000"/>
<line x1="498.9" y1="72.2" x2="498.9" y2="82.1" stroke="#3a3a3a" stroke-width="1"/>
<line x1="498.9" y1="127.1" x2="498.9" y2="128.4" stroke="#3a3a3a" stroke-width="1"/>
<rect x="497.1" y="82.1" width="3.6" height="45" fill="#213c7b"/>
<circle cx="498.9" cy="72.2" r="1.35" fill="#000"/>
<circle cx="498.9" cy="91.4" r="1.35" fill="#000"/>
<circle cx="498.9" cy="104.7" r="1.35" fill="#000"/>
<circle cx="498.9" cy="127.1" r="1.35" fill="#000"/>
<circle cx="498.9" cy="128.4" r="1.35" fill="#000"/>
<line x1="504.1" y1="75.1" x2="504.1" y2="77.9" stroke="#3a3a3a" stroke-width="1"/>
<line x1="504.1" y1="114.5" x2="504.1" y2="125" stroke="#3a3a3a" stroke-width="1"/>
<rect x="502.3" y="77.9" width="3.6" height="36.6" fill="#213c7b"/>
<circle cx="504.1" cy="75.1" r="1.35" fill="#000"/>
<circle cx="504.1" cy="81" r="1.35" fill="#000"/>
<circle cx="504.1" cy="83.8" r="1.35" fill="#000"/>
<circle cx="504.1" cy="106" r="1.35" fill="#000"/>
<circle cx="504.1" cy="125" r="1.35" fill="#000"/>
<line x1="509.15" y1="77.2" x2="509.15" y2="91.7" stroke="#3a3a3a" stroke-width="1"/>
<rect x="507.4" y="91.7" width="3.5" height="31.6" fill="#213c7b"/>
<circle cx="509.15" cy="77.2" r="1.35" fill="#000"/>
<circle cx="509.15" cy="106.2" r="1.35" fill="#000"/>
<circle cx="509.15" cy="123" r="1.35" fill="#000"/>
<text x="382" y="142.9" font-size="6.6" textLength="18.2" lengthAdjust="spacingAndGlyphs" fill="#231f20" class="tk">Fied #</text>
<text x="406.85" y="142.9" font-size="6.8" text-anchor="middle" fill="#231f20" class="tk">1</text>
<text x="411.85" y="142.9" font-size="6.8" text-anchor="middle" fill="#231f20" class="tk">2</text>
<text x="416.8" y="142.9" font-size="6.8" text-anchor="middle" fill="#231f20" class="tk">3</text>
<text x="425.15" y="142.9" font-size="6.8" text-anchor="middle" fill="#231f20" class="tk">1</text>
<text x="430.25" y="142.9" font-size="6.8" text-anchor="middle" fill="#231f20" class="tk">2</text>
<text x="435.3" y="142.9" font-size="6.8" text-anchor="middle" fill="#231f20" class="tk">3</text>
<text x="443.75" y="142.9" font-size="6.8" text-anchor="middle" fill="#231f20" class="tk">1</text>
<text x="448.6" y="142.9" font-size="6.8" text-anchor="middle" fill="#231f20" class="tk">2</text>
<text x="453.8" y="142.9" font-size="6.8" text-anchor="middle" fill="#231f20" class="tk">3</text>
<text x="461.95" y="142.9" font-size="6.8" text-anchor="middle" fill="#231f20" class="tk">1</text>
<text x="467.2" y="142.9" font-size="6.8" text-anchor="middle" fill="#231f20" class="tk">2</text>
<text x="472.2" y="142.9" font-size="6.8" text-anchor="middle" fill="#231f20" class="tk">3</text>
<text x="480.55" y="142.9" font-size="6.8" text-anchor="middle" fill="#231f20" class="tk">1</text>
<text x="485.6" y="142.9" font-size="6.8" text-anchor="middle" fill="#231f20" class="tk">2</text>
<text x="490.6" y="142.9" font-size="6.8" text-anchor="middle" fill="#231f20" class="tk">3</text>
<text x="498.9" y="142.9" font-size="6.8" text-anchor="middle" fill="#231f20" class="tk">1</text>
<text x="504.1" y="142.9" font-size="6.8" text-anchor="middle" fill="#231f20" class="tk">2</text>
<text x="509.15" y="142.9" font-size="6.8" text-anchor="middle" fill="#231f20" class="tk">3</text>
<line x1="405" y1="147.6" x2="436.5" y2="147.6" stroke="#6d6e71" stroke-width="1.7"/>
<line x1="442.7" y1="147.6" x2="473.9" y2="147.6" stroke="#6d6e71" stroke-width="1.7"/>
<line x1="480.8" y1="147.6" x2="512.5" y2="147.6" stroke="#6d6e71" stroke-width="1.7"/>
<text x="409.7" y="157" font-size="7.8" textLength="22.2" lengthAdjust="spacingAndGlyphs" fill="#231f20">Control</text>
<text x="452.7" y="157" font-size="7.8" textLength="10.8" lengthAdjust="spacingAndGlyphs" fill="#231f20">LPS</text>
<text x="446.9" y="165" font-size="7.8" textLength="21.2" lengthAdjust="spacingAndGlyphs" fill="#231f20">5μg/ml</text>
<text x="490.8" y="157" font-size="7.8" textLength="10.8" lengthAdjust="spacingAndGlyphs" fill="#231f20">LPS</text>
<text x="484.3" y="165" font-size="7.8" textLength="24.7" lengthAdjust="spacingAndGlyphs" fill="#231f20">25μg/ml</text>
<text x="7.8" y="192.2" font-size="11.8" font-weight="bold" textLength="8.6" lengthAdjust="spacingAndGlyphs" fill="#000">D</text>
<text x="85.4" y="191.6" font-size="10.8" textLength="46.6" lengthAdjust="spacingAndGlyphs" fill="#231f20">Slow rolling</text>
<line x1="53.9" y1="196.2" x2="53.9" y2="308.3" stroke="#000" stroke-width="1.2"/>
<line x1="50.5" y1="307.7" x2="53.9" y2="307.7" stroke="#000" stroke-width="1"/>
<text x="47.9" y="309.73" font-size="7" text-anchor="end" fill="#231f20" class="tk">0.0</text>
<line x1="50.5" y1="280.55" x2="53.9" y2="280.55" stroke="#000" stroke-width="1"/>
<text x="47.9" y="282.58" font-size="7" text-anchor="end" fill="#231f20" class="tk">0.5</text>
<line x1="50.5" y1="253.4" x2="53.9" y2="253.4" stroke="#000" stroke-width="1"/>
<text x="47.9" y="255.43" font-size="7" text-anchor="end" fill="#231f20" class="tk">1.0</text>
<line x1="50.5" y1="226.25" x2="53.9" y2="226.25" stroke="#000" stroke-width="1"/>
<text x="47.9" y="228.28" font-size="7" text-anchor="end" fill="#231f20" class="tk">1.5</text>
<line x1="50.5" y1="199.1" x2="53.9" y2="199.1" stroke="#000" stroke-width="1"/>
<text x="47.9" y="201.13" font-size="7" text-anchor="end" fill="#231f20" class="tk">2.0</text>
<line x1="52.3" y1="302.27" x2="53.9" y2="302.27" stroke="#000" stroke-width="0.9"/>
<line x1="52.3" y1="296.84" x2="53.9" y2="296.84" stroke="#000" stroke-width="0.9"/>
<line x1="52.3" y1="291.41" x2="53.9" y2="291.41" stroke="#000" stroke-width="0.9"/>
<line x1="52.3" y1="285.98" x2="53.9" y2="285.98" stroke="#000" stroke-width="0.9"/>
<line x1="52.3" y1="275.12" x2="53.9" y2="275.12" stroke="#000" stroke-width="0.9"/>
<line x1="52.3" y1="269.69" x2="53.9" y2="269.69" stroke="#000" stroke-width="0.9"/>
<line x1="52.3" y1="264.26" x2="53.9" y2="264.26" stroke="#000" stroke-width="0.9"/>
<line x1="52.3" y1="258.83" x2="53.9" y2="258.83" stroke="#000" stroke-width="0.9"/>
<line x1="52.3" y1="247.97" x2="53.9" y2="247.97" stroke="#000" stroke-width="0.9"/>
<line x1="52.3" y1="242.54" x2="53.9" y2="242.54" stroke="#000" stroke-width="0.9"/>
<line x1="52.3" y1="237.11" x2="53.9" y2="237.11" stroke="#000" stroke-width="0.9"/>
<line x1="52.3" y1="231.68" x2="53.9" y2="231.68" stroke="#000" stroke-width="0.9"/>
<line x1="52.3" y1="220.82" x2="53.9" y2="220.82" stroke="#000" stroke-width="0.9"/>
<line x1="52.3" y1="215.39" x2="53.9" y2="215.39" stroke="#000" stroke-width="0.9"/>
<line x1="52.3" y1="209.96" x2="53.9" y2="209.96" stroke="#000" stroke-width="0.9"/>
<line x1="52.3" y1="204.53" x2="53.9" y2="204.53" stroke="#000" stroke-width="0.9"/>
<text transform="translate(15.8 251.6) rotate(-90)" x="0" y="0" font-size="8.8" text-anchor="middle" textLength="58.4" lengthAdjust="spacingAndGlyphs" fill="#231f20">Percentage of total</text>
<text transform="translate(26.6 251.5) rotate(-90)" x="0" y="0" font-size="8.8" text-anchor="middle" textLength="59.9" lengthAdjust="spacingAndGlyphs" fill="#231f20">tracked neutrophils</text>
<text transform="translate(34.2 251.85) rotate(-90)" x="0" y="0" font-size="6.4" text-anchor="middle" textLength="45.3" lengthAdjust="spacingAndGlyphs" fill="#231f20" class="sm">Calcein AM staining</text>
<rect x="120.3" y="200.9" width="7" height="6.58" fill="#a5032f" stroke="#9a0530" stroke-width="0.5"/>
<rect x="120.3" y="210.8" width="7" height="6.58" fill="#213c7b" stroke="#1f3a72" stroke-width="0.5"/>
<text x="130.6" y="206.24" font-size="6.8" textLength="20.3" lengthAdjust="spacingAndGlyphs" fill="#333" class="lt">HNA-3a</text>
<text x="130.6" y="216.14" font-size="6.8" textLength="20.6" lengthAdjust="spacingAndGlyphs" fill="#333" class="lt">HNA-3b</text>
<line x1="108.7" y1="199.1" x2="108.7" y2="307.5" stroke="#222" stroke-width="1" stroke-dasharray="3 2.5"/>
<line x1="53.9" y1="307.7" x2="162.7" y2="307.7" stroke="#000" stroke-width="1.2"/>
<line x1="59.35" y1="288.6" x2="59.35" y2="293.6" stroke="#3a3a3a" stroke-width="1"/>
<rect x="57" y="293.6" width="4.7" height="14.1" fill="#a5032f"/>
<circle cx="59.35" cy="288.6" r="1.35" fill="#000"/>
<circle cx="59.35" cy="307" r="1.35" fill="#000"/>
<line x1="66.85" y1="206.2" x2="66.85" y2="212" stroke="#3a3a3a" stroke-width="1"/>
<line x1="66.85" y1="263" x2="66.85" y2="267.7" stroke="#3a3a3a" stroke-width="1"/>
<rect x="64" y="212" width="5.7" height="51" fill="#a5032f"/>
<line x1="64" y1="239.3" x2="69.7" y2="239.3" stroke="#000" stroke-width="1.2"/>
<circle cx="66.85" cy="206.2" r="1.35" fill="#000"/>
<circle cx="66.85" cy="228.3" r="1.35" fill="#000"/>
<circle cx="66.85" cy="250.4" r="1.35" fill="#000"/>
<circle cx="66.85" cy="267.7" r="1.35" fill="#000"/>
<line x1="74.3" y1="246.9" x2="74.3" y2="249.2" stroke="#3a3a3a" stroke-width="1"/>
<line x1="74.3" y1="301.4" x2="74.3" y2="307.7" stroke="#3a3a3a" stroke-width="1"/>
<rect x="71.8" y="249.2" width="5" height="52.2" fill="#a5032f"/>
<line x1="71.8" y1="267.7" x2="76.8" y2="267.7" stroke="#000" stroke-width="1.2"/>
<circle cx="74.3" cy="246.9" r="1.35" fill="#000"/>
<circle cx="74.3" cy="253.1" r="1.35" fill="#000"/>
<circle cx="74.3" cy="281.9" r="1.35" fill="#000"/>
<circle cx="74.3" cy="307" r="1.35" fill="#000"/>
<line x1="114.95" y1="257.7" x2="114.95" y2="263.2" stroke="#3a3a3a" stroke-width="1"/>
<rect x="112.7" y="263.2" width="4.5" height="44.5" fill="#a5032f"/>
<line x1="112.7" y1="293.1" x2="117.2" y2="293.1" stroke="#000" stroke-width="1.2"/>
<circle cx="114.95" cy="257.7" r="1.35" fill="#000"/>
<circle cx="114.95" cy="278.7" r="1.35" fill="#000"/>
<circle cx="114.95" cy="307" r="1.35" fill="#000"/>
<line x1="122.45" y1="250.6" x2="122.45" y2="264.3" stroke="#3a3a3a" stroke-width="1"/>
<rect x="120" y="264.3" width="4.9" height="43.4" fill="#a5032f"/>
<circle cx="122.45" cy="250.6" r="1.35" fill="#000"/>
<circle cx="122.45" cy="305.5" r="1.35" fill="#000"/>
<circle cx="122.45" cy="307" r="1.35" fill="#000"/>
<line x1="87.4" y1="248.7" x2="87.4" y2="307.7" stroke="#3c3c3c" stroke-width="1.15"/>
<circle cx="87.4" cy="248.7" r="1.35" fill="#000"/>
<circle cx="87.4" cy="305.5" r="1.35" fill="#000"/>
<circle cx="87.4" cy="307.2" r="1.35" fill="#000"/>
<line x1="94.5" y1="296.6" x2="94.5" y2="307.7" stroke="#3c3c3c" stroke-width="1.15"/>
<circle cx="94.5" cy="296.6" r="1.35" fill="#000"/>
<circle cx="94.5" cy="307.2" r="1.35" fill="#000"/>
<line x1="102.4" y1="303.1" x2="102.4" y2="307.7" stroke="#3c3c3c" stroke-width="1.15"/>
<circle cx="102.4" cy="303.1" r="1.35" fill="#000"/>
<circle cx="102.4" cy="307.2" r="1.35" fill="#000"/>
<line x1="129.8" y1="306.5" x2="129.8" y2="307.7" stroke="#3c3c3c" stroke-width="1.15"/>
<circle cx="129.8" cy="307.2" r="1.35" fill="#000"/>
<circle cx="128.6" cy="307.2" r="1.35" fill="#000"/>
<circle cx="131" cy="307.2" r="1.35" fill="#000"/>
<line x1="143" y1="241" x2="143" y2="307.7" stroke="#3c3c3c" stroke-width="1.15"/>
<circle cx="143" cy="241" r="1.35" fill="#000"/>
<circle cx="143" cy="281" r="1.35" fill="#000"/>
<circle cx="143" cy="307.2" r="1.35" fill="#000"/>
<line x1="150.4" y1="300.8" x2="150.4" y2="307.7" stroke="#3c3c3c" stroke-width="1.15"/>
<circle cx="150.4" cy="300.8" r="1.35" fill="#000"/>
<circle cx="150.4" cy="307.2" r="1.35" fill="#000"/>
<circle cx="157" cy="307.2" r="1.35" fill="#000"/>
<circle cx="159.2" cy="307.2" r="1.35" fill="#000"/>
<text x="33.1" y="316.2" font-size="6.6" textLength="20" lengthAdjust="spacingAndGlyphs" fill="#231f20" class="tk">Field #</text>
<text x="59.4" y="316.2" font-size="6.8" text-anchor="middle" fill="#231f20" class="tk">1</text>
<text x="66.9" y="316.2" font-size="6.8" text-anchor="middle" fill="#231f20" class="tk">2</text>
<text x="74.3" y="316.2" font-size="6.8" text-anchor="middle" fill="#231f20" class="tk">3</text>
<text x="87.4" y="316.2" font-size="6.8" text-anchor="middle" fill="#231f20" class="tk">1</text>
<text x="94.7" y="316.2" font-size="6.8" text-anchor="middle" fill="#231f20" class="tk">2</text>
<text x="102.2" y="316.2" font-size="6.8" text-anchor="middle" fill="#231f20" class="tk">3</text>
<text x="115" y="316.2" font-size="6.8" text-anchor="middle" fill="#231f20" class="tk">1</text>
<text x="122.4" y="316.2" font-size="6.8" text-anchor="middle" fill="#231f20" class="tk">2</text>
<text x="130" y="316.2" font-size="6.8" text-anchor="middle" fill="#231f20" class="tk">3</text>
<text x="143" y="316.2" font-size="6.8" text-anchor="middle" fill="#231f20" class="tk">1</text>
<text x="150.4" y="316.2" font-size="6.8" text-anchor="middle" fill="#231f20" class="tk">2</text>
<text x="157.5" y="316.2" font-size="6.8" text-anchor="middle" fill="#231f20" class="tk">3</text>
<text x="61.8" y="328.8" font-size="8.4" textLength="35.1" lengthAdjust="spacingAndGlyphs" fill="#231f20">Control IgG</text>
<text x="119.9" y="328.8" font-size="8.4" textLength="36.3" lengthAdjust="spacingAndGlyphs" fill="#231f20">Anti-β2 IgG</text>
<text x="179.8" y="192.2" font-size="11.8" font-weight="bold" textLength="6.8" lengthAdjust="spacingAndGlyphs" fill="#000">E</text>
<text x="264.7" y="191.4" font-size="10.8" textLength="27.5" lengthAdjust="spacingAndGlyphs" fill="#231f20">Rolling</text>
<line x1="223.6" y1="196.8" x2="223.6" y2="308.2" stroke="#000" stroke-width="1.2"/>
<line x1="220.2" y1="307.6" x2="223.6" y2="307.6" stroke="#000" stroke-width="1"/>
<text x="218.3" y="309.63" font-size="7" text-anchor="end" fill="#231f20" class="tk">0</text>
<line x1="220.2" y1="280.65" x2="223.6" y2="280.65" stroke="#000" stroke-width="1"/>
<text x="218.3" y="282.68" font-size="7" text-anchor="end" fill="#231f20" class="tk">10</text>
<line x1="220.2" y1="253.7" x2="223.6" y2="253.7" stroke="#000" stroke-width="1"/>
<text x="218.3" y="255.73" font-size="7" text-anchor="end" fill="#231f20" class="tk">20</text>
<line x1="220.2" y1="226.75" x2="223.6" y2="226.75" stroke="#000" stroke-width="1"/>
<text x="218.3" y="228.78" font-size="7" text-anchor="end" fill="#231f20" class="tk">30</text>
<line x1="220.2" y1="199.8" x2="223.6" y2="199.8" stroke="#000" stroke-width="1"/>
<text x="218.3" y="201.83" font-size="7" text-anchor="end" fill="#231f20" class="tk">40</text>
<line x1="222" y1="302.21" x2="223.6" y2="302.21" stroke="#000" stroke-width="0.9"/>
<line x1="222" y1="296.82" x2="223.6" y2="296.82" stroke="#000" stroke-width="0.9"/>
<line x1="222" y1="291.43" x2="223.6" y2="291.43" stroke="#000" stroke-width="0.9"/>
<line x1="222" y1="286.04" x2="223.6" y2="286.04" stroke="#000" stroke-width="0.9"/>
<line x1="222" y1="275.26" x2="223.6" y2="275.26" stroke="#000" stroke-width="0.9"/>
<line x1="222" y1="269.87" x2="223.6" y2="269.87" stroke="#000" stroke-width="0.9"/>
<line x1="222" y1="264.48" x2="223.6" y2="264.48" stroke="#000" stroke-width="0.9"/>
<line x1="222" y1="259.09" x2="223.6" y2="259.09" stroke="#000" stroke-width="0.9"/>
<line x1="222" y1="248.31" x2="223.6" y2="248.31" stroke="#000" stroke-width="0.9"/>
<line x1="222" y1="242.92" x2="223.6" y2="242.92" stroke="#000" stroke-width="0.9"/>
<line x1="222" y1="237.53" x2="223.6" y2="237.53" stroke="#000" stroke-width="0.9"/>
<line x1="222" y1="232.14" x2="223.6" y2="232.14" stroke="#000" stroke-width="0.9"/>
<line x1="222" y1="221.36" x2="223.6" y2="221.36" stroke="#000" stroke-width="0.9"/>
<line x1="222" y1="215.97" x2="223.6" y2="215.97" stroke="#000" stroke-width="0.9"/>
<line x1="222" y1="210.58" x2="223.6" y2="210.58" stroke="#000" stroke-width="0.9"/>
<line x1="222" y1="205.19" x2="223.6" y2="205.19" stroke="#000" stroke-width="0.9"/>
<text transform="translate(187 251.8) rotate(-90)" x="0" y="0" font-size="8.8" text-anchor="middle" textLength="57.7" lengthAdjust="spacingAndGlyphs" fill="#231f20">Percentage of total</text>
<text transform="translate(198 251.6) rotate(-90)" x="0" y="0" font-size="8.8" text-anchor="middle" textLength="59.7" lengthAdjust="spacingAndGlyphs" fill="#231f20">tracked neutrophils</text>
<text transform="translate(206.2 251.7) rotate(-90)" x="0" y="0" font-size="6.4" text-anchor="middle" textLength="45.6" lengthAdjust="spacingAndGlyphs" fill="#231f20" class="sm">Calcein AM staining</text>
<rect x="289" y="202.9" width="7" height="6.58" fill="#a5032f" stroke="#9a0530" stroke-width="0.5"/>
<rect x="289" y="213.2" width="7" height="6.58" fill="#213c7b" stroke="#1f3a72" stroke-width="0.5"/>
<text x="299.2" y="208.24" font-size="6.8" textLength="20.3" lengthAdjust="spacingAndGlyphs" fill="#333" class="lt">HNA-3a</text>
<text x="299.2" y="218.54" font-size="6.8" textLength="20.6" lengthAdjust="spacingAndGlyphs" fill="#333" class="lt">HNA-3b</text>
<line x1="278.1" y1="199.7" x2="278.1" y2="307.5" stroke="#222" stroke-width="1" stroke-dasharray="3.1 2.45"/>
<line x1="223.6" y1="307.6" x2="331.9" y2="307.6" stroke="#000" stroke-width="1.2"/>
<line x1="229.45" y1="259.5" x2="229.45" y2="260.4" stroke="#3a3a3a" stroke-width="1"/>
<line x1="229.45" y1="279.2" x2="229.45" y2="280" stroke="#3a3a3a" stroke-width="1"/>
<rect x="226.9" y="260.4" width="5.1" height="18.8" fill="#a5032f"/>
<line x1="226.9" y1="270.3" x2="232" y2="270.3" stroke="#000" stroke-width="1.2"/>
<circle cx="229.45" cy="259.5" r="1.35" fill="#000"/>
<circle cx="229.45" cy="262" r="1.35" fill="#000"/>
<circle cx="229.45" cy="279" r="1.35" fill="#000"/>
<circle cx="229.45" cy="280" r="1.35" fill="#000"/>
<line x1="236.75" y1="222.1" x2="236.75" y2="226.1" stroke="#3a3a3a" stroke-width="1"/>
<line x1="236.75" y1="260.4" x2="236.75" y2="263.7" stroke="#3a3a3a" stroke-width="1"/>
<rect x="234.2" y="226.1" width="5.1" height="34.3" fill="#a5032f"/>
<line x1="234.2" y1="244.9" x2="239.3" y2="244.9" stroke="#000" stroke-width="1.2"/>
<circle cx="236.75" cy="222.1" r="1.35" fill="#000"/>
<circle cx="236.75" cy="237.1" r="1.35" fill="#000"/>
<circle cx="236.75" cy="253.1" r="1.35" fill="#000"/>
<circle cx="236.75" cy="263.7" r="1.35" fill="#000"/>
<line x1="244.35" y1="230.9" x2="244.35" y2="231.6" stroke="#3a3a3a" stroke-width="1"/>
<line x1="244.35" y1="257.5" x2="244.35" y2="261.9" stroke="#3a3a3a" stroke-width="1"/>
<rect x="241.9" y="231.6" width="4.9" height="25.9" fill="#a5032f"/>
<line x1="241.9" y1="238.9" x2="246.8" y2="238.9" stroke="#000" stroke-width="1.2"/>
<circle cx="244.35" cy="230.9" r="1.35" fill="#000"/>
<circle cx="244.35" cy="232" r="1.35" fill="#000"/>
<circle cx="244.35" cy="246" r="1.35" fill="#000"/>
<circle cx="244.35" cy="261.9" r="1.35" fill="#000"/>
<line x1="284.3" y1="267" x2="284.3" y2="268.1" stroke="#3a3a3a" stroke-width="1"/>
<line x1="284.3" y1="292.5" x2="284.3" y2="295.4" stroke="#3a3a3a" stroke-width="1"/>
<rect x="282.1" y="268.1" width="4.4" height="24.4" fill="#a5032f"/>
<line x1="282.1" y1="276.3" x2="286.5" y2="276.3" stroke="#000" stroke-width="1.2"/>
<circle cx="284.3" cy="267" r="1.35" fill="#000"/>
<circle cx="284.3" cy="268" r="1.35" fill="#000"/>
<circle cx="284.3" cy="284.3" r="1.35" fill="#000"/>
<circle cx="284.3" cy="295.4" r="1.35" fill="#000"/>
<line x1="291.8" y1="248.2" x2="291.8" y2="249.8" stroke="#3a3a3a" stroke-width="1"/>
<line x1="291.8" y1="280.3" x2="291.8" y2="284.3" stroke="#3a3a3a" stroke-width="1"/>
<rect x="289.4" y="249.8" width="4.8" height="30.5" fill="#a5032f"/>
<line x1="289.4" y1="260.4" x2="294.2" y2="260.4" stroke="#000" stroke-width="1.2"/>
<circle cx="291.8" cy="248.2" r="1.35" fill="#000"/>
<circle cx="291.8" cy="269.2" r="1.35" fill="#000"/>
<circle cx="291.8" cy="284.3" r="1.35" fill="#000"/>
<line x1="299.4" y1="247.1" x2="299.4" y2="252.7" stroke="#3a3a3a" stroke-width="1"/>
<line x1="299.4" y1="277.7" x2="299.4" y2="279.9" stroke="#3a3a3a" stroke-width="1"/>
<rect x="297.1" y="252.7" width="4.6" height="25" fill="#a5032f"/>
<circle cx="299.4" cy="247.1" r="1.35" fill="#000"/>
<circle cx="299.4" cy="266.6" r="1.35" fill="#000"/>
<circle cx="299.4" cy="270.4" r="1.35" fill="#000"/>
<circle cx="299.4" cy="279.9" r="1.35" fill="#000"/>
<circle cx="230.6" cy="278.4" r="1.35" fill="#000"/>
<circle cx="230.8" cy="260.6" r="1.35" fill="#000"/>
<circle cx="245.6" cy="231.4" r="1.35" fill="#000"/>
<line x1="256.5" y1="247.6" x2="256.5" y2="287.4" stroke="#333" stroke-width="1.15"/>
<line x1="254.2" y1="252.7" x2="258.8" y2="252.7" stroke="#000" stroke-width="1.2"/>
<circle cx="256.5" cy="247.6" r="1.35" fill="#000"/>
<circle cx="256.5" cy="287.4" r="1.35" fill="#000"/>
<line x1="264.4" y1="243.8" x2="264.4" y2="265.9" stroke="#333" stroke-width="1.15"/>
<line x1="262.1" y1="259.3" x2="266.7" y2="259.3" stroke="#000" stroke-width="1.2"/>
<circle cx="264.4" cy="243.8" r="1.35" fill="#000"/>
<circle cx="264.4" cy="265.9" r="1.35" fill="#000"/>
<line x1="271.7" y1="238.7" x2="271.7" y2="293.6" stroke="#333" stroke-width="1.15"/>
<line x1="269.4" y1="251.5" x2="274" y2="251.5" stroke="#000" stroke-width="1.2"/>
<circle cx="271.7" cy="238.7" r="1.35" fill="#000"/>
<circle cx="271.7" cy="293.6" r="1.35" fill="#000"/>
<line x1="311.7" y1="273.7" x2="311.7" y2="288.1" stroke="#333" stroke-width="1.15"/>
<line x1="309.4" y1="281.4" x2="314" y2="281.4" stroke="#000" stroke-width="1.2"/>
<circle cx="311.7" cy="273.7" r="1.35" fill="#000"/>
<circle cx="311.7" cy="288.1" r="1.35" fill="#000"/>
<line x1="319.2" y1="247.1" x2="319.2" y2="290.3" stroke="#333" stroke-width="1.15"/>
<line x1="316.9" y1="268.8" x2="321.5" y2="268.8" stroke="#000" stroke-width="1.2"/>
<circle cx="319.2" cy="247.1" r="1.35" fill="#000"/>
<circle cx="319.2" cy="290.3" r="1.35" fill="#000"/>
<line x1="327.2" y1="260" x2="327.2" y2="288.7" stroke="#333" stroke-width="1.15"/>
<line x1="324.9" y1="271.5" x2="329.5" y2="271.5" stroke="#000" stroke-width="1.2"/>
<circle cx="327.2" cy="260" r="1.35" fill="#000"/>
<circle cx="327.2" cy="288.7" r="1.35" fill="#000"/>
<text x="201.2" y="316.2" font-size="6.6" textLength="19.2" lengthAdjust="spacingAndGlyphs" fill="#231f20" class="tk">Field #</text>
<text x="229.2" y="316.2" font-size="6.8" text-anchor="middle" fill="#231f20" class="tk">1</text>
<text x="236.8" y="316.2" font-size="6.8" text-anchor="middle" fill="#231f20" class="tk">2</text>
<text x="244.2" y="316.2" font-size="6.8" text-anchor="middle" fill="#231f20" class="tk">3</text>
<text x="256.8" y="316.2" font-size="6.8" text-anchor="middle" fill="#231f20" class="tk">1</text>
<text x="264.5" y="316.2" font-size="6.8" text-anchor="middle" fill="#231f20" class="tk">2</text>
<text x="271.9" y="316.2" font-size="6.8" text-anchor="middle" fill="#231f20" class="tk">3</text>
<text x="284.2" y="316.2" font-size="6.8" text-anchor="middle" fill="#231f20" class="tk">1</text>
<text x="291.9" y="316.2" font-size="6.8" text-anchor="middle" fill="#231f20" class="tk">2</text>
<text x="299.2" y="316.2" font-size="6.8" text-anchor="middle" fill="#231f20" class="tk">3</text>
<text x="312.4" y="316.2" font-size="6.8" text-anchor="middle" fill="#231f20" class="tk">1</text>
<text x="319.6" y="316.2" font-size="6.8" text-anchor="middle" fill="#231f20" class="tk">2</text>
<text x="327.3" y="316.2" font-size="6.8" text-anchor="middle" fill="#231f20" class="tk">3</text>
<text x="234.2" y="328.8" font-size="8.4" textLength="35.4" lengthAdjust="spacingAndGlyphs" fill="#231f20">Control IgG</text>
<text x="288.8" y="328.8" font-size="8.4" textLength="36.2" lengthAdjust="spacingAndGlyphs" fill="#231f20">Anti-β2 IgG</text>
<rect x="0" y="0" width="520" height="1.3" fill="#000"/>
<rect x="0" y="0" width="1.2" height="339" fill="#000"/>
<rect x="518.5" y="0" width="1.5" height="339" fill="#000"/>
<rect x="0" y="337.3" width="520" height="1.7" fill="#000"/>
</svg></body></html>
